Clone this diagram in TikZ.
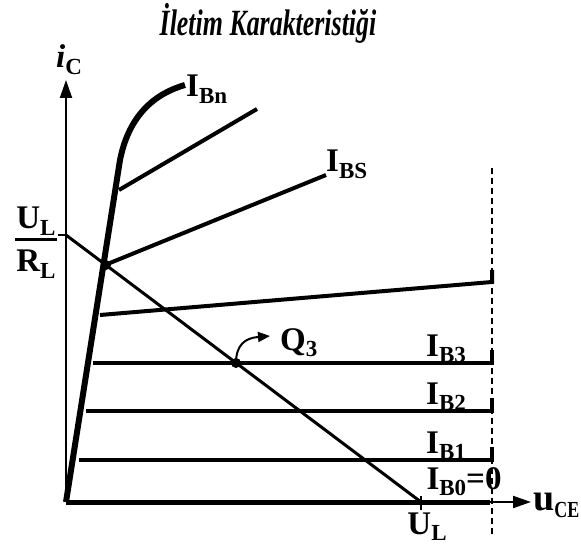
\documentclass[tikz,border=0pt]{standalone}
\usepackage{fontspec}
\setmainfont{Liberation Serif}
\usetikzlibrary{positioning, arrows.meta, calc}
\newcommand{\altind}[1]{\raisebox{-0.45ex}{\fontsize{23}{23}\selectfont\bfseries #1}}

\begin{document}
\begin{tikzpicture}[x=1pt, y=-1pt,
    etiket/.style={font=\fontsize{33}{35}\selectfont\bfseries, inner sep=0pt},
    eksen/.style={line width=2pt, -{Triangle[length=18pt, width=12pt]}},
    egri/.style={line width=4pt},
    kesik/.style={line width=1.5pt, dash pattern=on 6pt off 4pt}]
    \useasboundingbox (0,0) rectangle (581,545);
    % Başlık
    \node[font=\fontsize{37}{39}\selectfont\bfseries\itshape, inner sep=0pt, anchor=base] (baslik) at (268,36)
      {\scalebox{0.7}[1]{İletim Karakteristiği}};
    % Eksenler
    \coordinate (O) at (66,502);
    \draw[eksen] (O) -- (66,80) coordinate (yuc);
    \draw[eksen] (O) -- (531,502) coordinate (xuc);
    \node[etiket, anchor=base west] (ic) at (56,68) {\textit{i}\altind{C}};
    \node[etiket, font=\fontsize{38}{40}\selectfont\bfseries, anchor=base west] (uce) at (533,510)
      {u\scalebox{0.78}[1]{\altind{CE}}};
    % Kesik çizgi
    \draw[kesik] (492,168) -- (492,535);
    % Doyma bölgesi
    \draw[line width=6pt] (O) -- (120,160) .. controls (128,120) and (150,95) .. (185,85);
    \node[etiket, anchor=base west] (ibn) at (186,97) {I\altind{Bn}};
    % Karakteristik eğriler
    \draw[egri] (119,190) -- (257,109);
    \draw[egri] (105,265) -- (326,175);
    \node[etiket, anchor=base west] (ibs) at (326,172) {I\altind{BS}};
    \draw[egri] (100,315) -- (492,282) -- (492,270);
    \draw[egri] (93,363) -- (492,363) -- (492,350);
    \node[etiket, anchor=base] (ib3) at (446,356) {I\altind{B3}};
    \draw[egri] (86,411) -- (492,411) -- (492,398);
    \node[etiket, anchor=base] (ib2) at (446,404) {I\altind{B2}};
    \draw[egri] (79,460) -- (492,460) -- (492,447);
    \node[etiket, anchor=base] (ib1) at (446,453) {I\altind{B1}};
    \draw[line width=5pt] (O) -- (490,502);
    \node[etiket, anchor=base] (ib0) at (464,489) {I\altind{B0}=0};
    % Yük doğrusu
    \coordinate (A) at (66,235);
    \coordinate (B) at (421,502);
    \draw[line width=3pt] (A) -- (B);
    \draw[line width=2pt] (58,235) -- (A);
    \draw[line width=2pt] (421,496) -- (421,510);
    \node[etiket, anchor=base] (ul) at (427,534) {U\altind{L}};
    \node[etiket, anchor=base] (ulst) at (36,229) {U\altind{L}};
    \draw[line width=3pt] (15,240) -- (57,240);
    \node[etiket, anchor=base] (rl) at (36,272) {R\altind{L}};
    % Çalışma noktaları
    \fill (106,265) circle (5pt);
    \coordinate (Q) at (236,363);
    \fill (Q) circle (5pt);
    \draw[line width=2pt, -{Triangle[length=12pt, width=10pt]}] (Q) .. controls (236,345) and (245,338) .. (270,336);
    \node[etiket, anchor=base west] (q3) at (280,350) {Q\altind{3}};
\end{tikzpicture}
\end{document}
